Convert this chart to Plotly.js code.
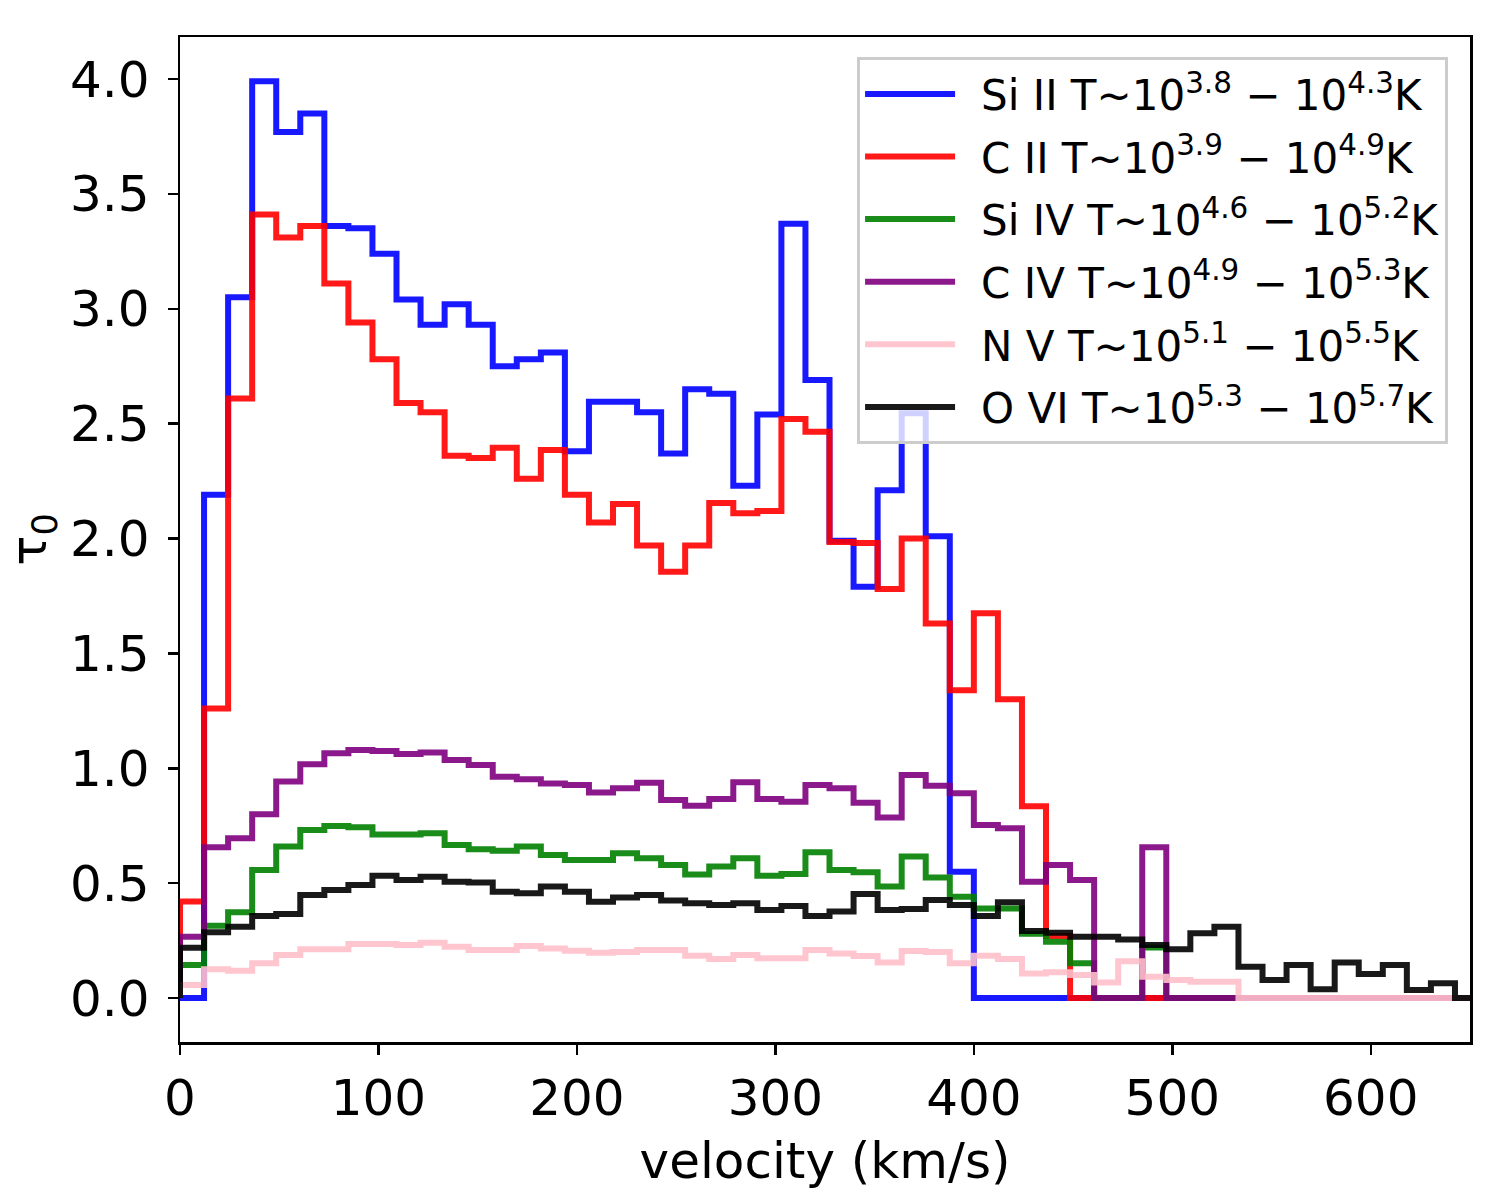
<!DOCTYPE html>
<html>
<head>
<meta charset="utf-8">
<script src="https://cdn.plot.ly/plotly-3.0.1.min.js"></script>
<style>
  body { margin: 0; background: #fff; }
  #myPlot { width: 1500px; height: 1200px; }
</style>
</head>
<body>
<div id="myPlot"></div>
<script>
// histogram bins: width 800/66 km/s, starting at 0
var binWidth = 800 / 66;
var nBins = 54;

var si2 = [0, 2.19, 3.05, 3.99, 3.77, 3.85, 3.36, 3.35, 3.24, 3.04,
  2.93, 3.02, 2.93, 2.75, 2.78, 2.81, 2.38, 2.595, 2.595, 2.55,
  2.37, 2.65, 2.63, 2.23, 2.54, 3.37, 2.69, 1.99, 1.79, 2.21,
  2.545, 2.01, 0.55, 0, 0, 0, 0, 0, 0, 0,
  0, 0, 0, 0, 0, 0, 0, 0, 0, 0,
  0, 0, 0, 0];

var c2 = [0.42, 1.26, 2.61, 3.41, 3.31, 3.36, 3.11, 2.94, 2.78, 2.59,
  2.55, 2.36, 2.35, 2.395, 2.26, 2.385, 2.19, 2.07, 2.15, 1.97,
  1.855, 1.97, 2.155, 2.11, 2.12, 2.52, 2.465, 1.985, 1.98, 1.78,
  2.0, 1.63, 1.34, 1.675, 1.30, 0.835, 0.27, 0, 0, 0,
  0, 0, 0, 0, 0, 0, 0, 0, 0, 0,
  0, 0, 0, 0];

var si4 = [0.144, 0.315, 0.373, 0.557, 0.659, 0.731, 0.749, 0.743, 0.712, 0.712,
  0.717, 0.666, 0.648, 0.641, 0.659, 0.622, 0.601, 0.601, 0.63, 0.608,
  0.579, 0.538, 0.572, 0.608, 0.532, 0.54, 0.634, 0.557, 0.547, 0.485,
  0.616, 0.525, 0.441, 0.39, 0.39, 0.28, 0.245, 0.151, 0, 0,
  0.22, 0, 0, 0, 0, 0, 0, 0, 0, 0,
  0, 0, 0, 0];

var c4 = [0.267, 0.656, 0.695, 0.80, 0.942, 1.017, 1.065, 1.079, 1.075, 1.062,
  1.069, 1.036, 1.014, 0.963, 0.952, 0.934, 0.927, 0.894, 0.913, 0.937,
  0.862, 0.837, 0.866, 0.939, 0.866, 0.854, 0.927, 0.913, 0.85, 0.786,
  0.971, 0.924, 0.891, 0.753, 0.739, 0.506, 0.579, 0.514, 0, 0,
  0.656, 0, 0, 0, 0, 0, 0, 0, 0, 0,
  0, 0, 0, 0];

var n5 = [0.057, 0.125, 0.119, 0.151, 0.187, 0.212, 0.212, 0.235, 0.235, 0.231,
  0.241, 0.223, 0.209, 0.209, 0.226, 0.216, 0.206, 0.197, 0.2, 0.209,
  0.209, 0.184, 0.17, 0.187, 0.173, 0.173, 0.209, 0.194, 0.183, 0.154,
  0.205, 0.2, 0.151, 0.184, 0.17, 0.107, 0.112, 0.1, 0.068, 0.16,
  0.093, 0.078, 0.071, 0.071, 0, 0, 0, 0, 0, 0,
  0, 0, 0, 0];

var o6 = [0.219, 0.286, 0.31, 0.357, 0.366, 0.448, 0.47, 0.492, 0.532, 0.514,
  0.528, 0.506, 0.503, 0.463, 0.456, 0.485, 0.463, 0.419, 0.437, 0.448,
  0.424, 0.412, 0.405, 0.412, 0.383, 0.40, 0.357, 0.376, 0.453, 0.383,
  0.387, 0.427, 0.405, 0.357, 0.417, 0.292, 0.284, 0.267, 0.267, 0.255,
  0.231, 0.212, 0.282, 0.31, 0.136, 0.078, 0.144, 0.038, 0.154, 0.104,
  0.144, 0.035, 0.064, 0];

var names = [
  'Si II T~10<sup>3.8</sup> \u2212 10<sup>4.3</sup>K',
  'C II T~10<sup>3.9</sup> \u2212 10<sup>4.9</sup>K',
  'Si IV T~10<sup>4.6</sup> \u2212 10<sup>5.2</sup>K',
  'C IV T~10<sup>4.9</sup> \u2212 10<sup>5.3</sup>K',
  'N V T~10<sup>5.1</sup> \u2212 10<sup>5.5</sup>K',
  'O VI T~10<sup>5.3</sup> \u2212 10<sup>5.7</sup>K'
];
var colors = ['rgba(0,0,255,0.9)', 'rgba(255,0,0,0.9)', 'rgba(0,128,0,0.9)',
  'rgba(128,0,128,0.9)', 'rgba(255,192,203,0.9)', 'rgba(0,0,0,0.9)'];
var series = [si2, c2, si4, c4, n5, o6];

var edges = [0];
for (var k = 0; k <= nBins; k++) edges.push(k * binWidth);

var traces = [];
for (var i = 0; i < series.length; i++) {
  var v = series[i];
  var y = [0].concat(v).concat([v[v.length - 1]]);
  traces.push({
    x: edges,
    y: y,
    name: '\u2002' + names[i],
    legendgroup: 'g' + i,
    type: 'scatter',
    mode: 'lines',
    line: {shape: 'hv', color: colors[i], width: 6}
  });
}

var font = {family: 'DejaVu Sans', size: 50, color: '#000'};

var layout = {
  width: 1500,
  height: 1200,
  margin: {l: 180, r: 30, t: 37, b: 158},
  paper_bgcolor: '#fff',
  plot_bgcolor: '#fff',
  font: font,
  showlegend: true,
  legend: {
    x: 0.983, xanchor: 'right',
    y: 0.98, yanchor: 'top',
    bgcolor: 'rgba(255,255,255,0.8)',
    bordercolor: '#cccccc',
    borderwidth: 3,
    itemwidth: 90,
    traceorder: 'grouped',
    tracegroupgap: 5,
    font: {family: 'DejaVu Sans', size: 42, color: '#000'}
  },
  xaxis: {
    range: [0, 650],
    tickvals: [0, 100, 200, 300, 400, 500, 600],
    showgrid: false, zeroline: false,
    showline: true, mirror: true, linecolor: '#000', linewidth: 2.5,
    ticks: 'outside', ticklen: 10, tickwidth: 2.5, tickcolor: '#000',
    tickfont: font,
    title: {text: 'velocity (km/s)', font: {family: 'DejaVu Sans', size: 50, color: '#000'}, standoff: 18}
  },
  yaxis: {
    range: [-0.1915, 4.183],
    tickvals: [0, 0.5, 1, 1.5, 2, 2.5, 3, 3.5, 4],
    tickformat: '.1f',
    showgrid: false, zeroline: false,
    showline: true, mirror: true, linecolor: '#000', linewidth: 2.5,
    ticks: 'outside', ticklen: 10, tickwidth: 2.5, tickcolor: '#000',
    ticklabelstandoff: 8,
    tickfont: font,
    title: {text: '\u03c4<sub>0</sub>', font: {family: 'DejaVu Sans', size: 50, color: '#000'}, standoff: 12}
  }
};

Plotly.newPlot('myPlot', traces, layout, {staticPlot: true});
</script>
</body>
</html>
